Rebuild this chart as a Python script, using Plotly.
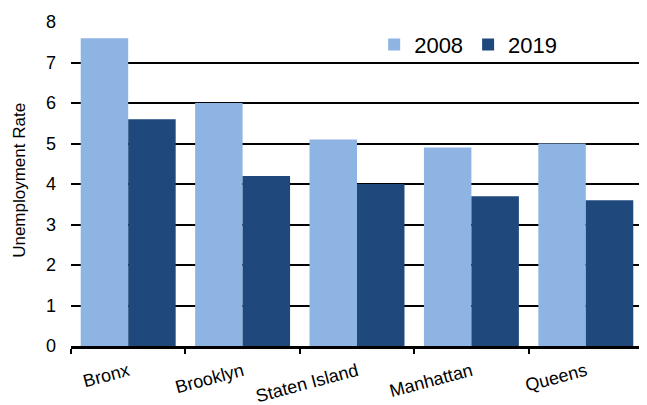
import plotly.graph_objects as go

boroughs = ["Bronx", "Brooklyn", "Staten Island", "Manhattan", "Queens"]
rate_2008 = [7.6, 6.0, 5.1, 4.9, 5.0]
rate_2019 = [5.6, 4.2, 4.0, 3.7, 3.6]
y_ticks = [0, 1, 2, 3, 4, 5, 6, 7, 8]

font = "Liberation Sans, Arial, sans-serif"
fig = go.Figure()
fig.add_trace(go.Bar(x=boroughs, y=rate_2008, name="2008", marker=dict(color="#8EB4E3", line=dict(width=0))))
fig.add_trace(go.Bar(x=boroughs, y=rate_2019, name="2019", marker=dict(color="#1F497D", line=dict(width=0))))

fig.update_layout(
    width=639, height=397,
    margin=dict(l=63, r=4, t=14, b=59),
    plot_bgcolor="white", paper_bgcolor="white",
    barmode="group", bargap=0.17, bargroupgap=0,
    font=dict(family=font, size=18, color="black"),
    legend=dict(orientation="h", x=0.53, y=0.93, xanchor="left", yanchor="middle",
                font=dict(size=22), bgcolor="rgba(0,0,0,0)", itemwidth=30, traceorder="normal"),
    showlegend=True,
)
fig.add_annotation(
    text="Unemployment Rate", textangle=-90, showarrow=False,
    xref="paper", yref="paper", x=-0.089, y=0.51, xanchor="center", yanchor="middle",
    font=dict(size=17, family=font, color="black"),
)
fig.update_xaxes(
    automargin=False,
    showline=True, linecolor="black", linewidth=3,
    ticks="outside", tickson="boundaries", ticklen=5, tickwidth=1.5, tickcolor="black",
    tickangle=-15, tickfont=dict(size=18), showgrid=False, ticklabelstandoff=5,
)
fig.update_yaxes(
    automargin=False,
    range=[0, 8], tickvals=y_ticks, showgrid=True, gridcolor="black", gridwidth=2,
    zeroline=False, showline=False, ticks="", ticklabelstandoff=14,
    tickfont=dict(size=18),
)
fig.write_html("out.html")
